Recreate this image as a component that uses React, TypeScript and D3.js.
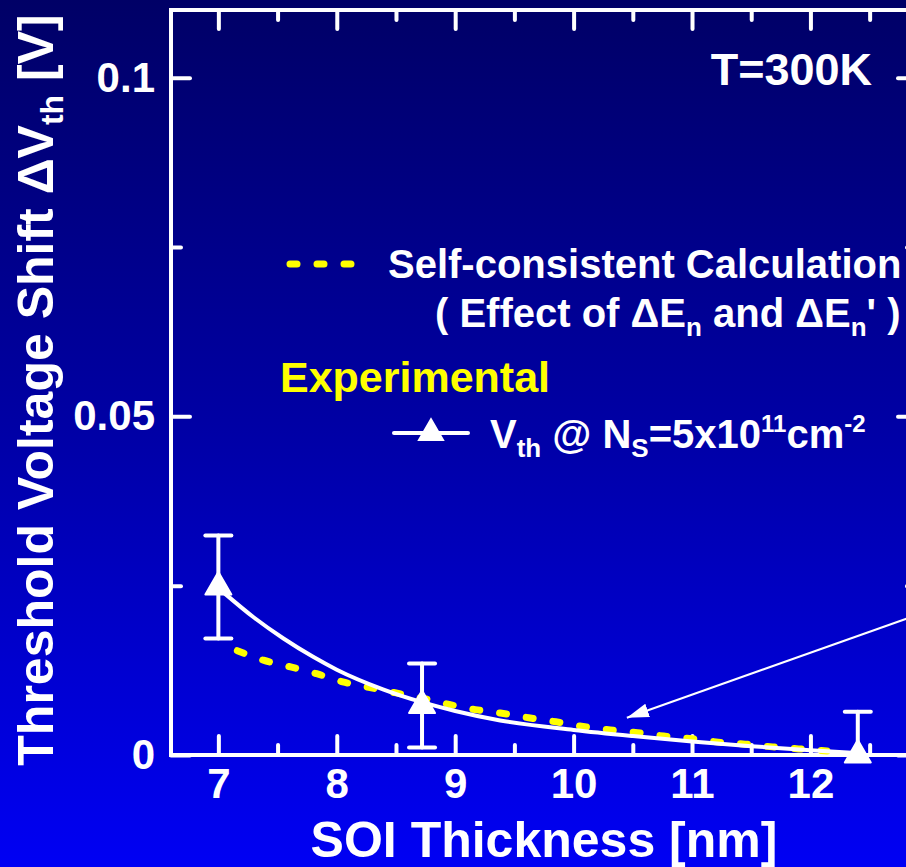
import React, { useRef, useEffect } from 'react';
import * as d3 from 'd3';

// experimental threshold voltage shift (triangles with error bars)
const expThickness = [7, 8.72, 12.4];
const expShift = [0.0248, 0.0073, 0.0];
const expError = [0.0076, 0.0062, 0.0064];

// solid white fit through the experimental points
const fitThickness = [7.05, 7.3, 7.55, 7.8, 8.0, 8.39, 8.72, 9.0, 9.38, 10.0, 10.5, 11.0, 11.5, 12.0, 12.4];
const fitShift = [0.0239, 0.0203, 0.0172, 0.0145, 0.0126, 0.0097, 0.0078, 0.0065, 0.0051, 0.0037, 0.0028, 0.002, 0.0013, 0.0007, 0.0003];

// self-consistent calculation (yellow dotted)
const calcThickness = [7.16, 7.38, 7.61, 7.83, 8.05, 8.27, 8.49, 8.72, 8.94, 9.17, 9.38, 9.62, 9.85, 10.08, 10.31, 10.54, 10.76, 11.0, 11.22, 11.45, 11.68, 11.9, 12.14];
const calcShift = [0.0154, 0.014, 0.013, 0.012, 0.0108, 0.01, 0.0092, 0.0084, 0.0075, 0.0067, 0.0062, 0.0055, 0.0049, 0.0042, 0.0037, 0.0033, 0.0028, 0.0024, 0.0019, 0.0016, 0.0012, 0.0009, 0.0006];

const xMajor = [7, 8, 9, 10, 11, 12];
const xMinor = [7.5, 8.5, 9.5, 10.5, 11.5, 12.5];
const yMajor = [0, 0.05, 0.1];
const yLabels = ['0', '0.05', '0.1'];
const yMinor = [0.025, 0.075];

const W = 906;
const H = 867;
const FONT = 'Liberation Sans, Arial, Helvetica, sans-serif';

const App = () => {
    const ref = useRef<SVGSVGElement>(null);

    useEffect(() => {
        const left = 171, right = 917, top = 10, bottom = 755;

        const x = d3.scaleLinear().domain([6.6, 12.9]).range([left, right]);
        const y = d3.scaleLinear().domain([0, 0.11]).range([bottom, top]);

        const svg = d3.select(ref.current);
        svg.selectAll('*').remove();

        const defs = svg.append('defs');
        const grad = defs.append('linearGradient')
            .attr('id', 'bg').attr('x1', 0).attr('y1', 0).attr('x2', 0).attr('y2', 1);
        grad.append('stop').attr('offset', '0%').attr('stop-color', '#000066');
        grad.append('stop').attr('offset', '50%').attr('stop-color', '#0000a6');
        grad.append('stop').attr('offset', '100%').attr('stop-color', '#0000f4');

        defs.append('clipPath').attr('id', 'plot')
            .append('rect').attr('x', left).attr('y', top)
            .attr('width', right - left).attr('height', bottom - top);

        defs.append('marker')
            .attr('id', 'head')
            .attr('markerUnits', 'userSpaceOnUse')
            .attr('viewBox', '0 -8 22 16')
            .attr('refX', 22).attr('refY', 0)
            .attr('markerWidth', 22).attr('markerHeight', 16)
            .attr('orient', 'auto')
            .append('path').attr('d', 'M0,-7L22,0L0,7Z').attr('fill', 'white');

        svg.append('rect').attr('width', W).attr('height', H).attr('fill', 'url(#bg)');

        // ticks (inward on all four sides)
        const styleAxis = (g, size) => {
            g.select('.domain').remove();
            g.selectAll('.tick line')
                .attr('stroke', 'white').attr('stroke-width', 4).attr('stroke-linecap', 'round');
            g.selectAll('text')
                .attr('fill', 'white').attr('font-family', FONT)
                .attr('font-weight', 'bold').attr('font-size', size);
        };

        svg.append('g').attr('transform', `translate(0,${bottom})`)
            .call(d3.axisBottom(x).tickValues(xMajor).tickSize(-19).tickPadding(13).tickFormat(d3.format('d')))
            .call(g => styleAxis(g, 42));
        svg.append('g').attr('transform', `translate(0,${bottom})`)
            .call(d3.axisBottom(x).tickValues(xMinor).tickSize(-10).tickFormat(() => ''))
            .call(g => styleAxis(g, 42));
        svg.append('g').attr('transform', `translate(0,${top})`)
            .call(d3.axisTop(x).tickValues(xMajor).tickSize(-19).tickFormat(() => ''))
            .call(g => styleAxis(g, 42));
        svg.append('g').attr('transform', `translate(0,${top})`)
            .call(d3.axisTop(x).tickValues(xMinor).tickSize(-10).tickFormat(() => ''))
            .call(g => styleAxis(g, 42));

        svg.append('g').attr('transform', `translate(${left},0)`)
            .call(d3.axisLeft(y).tickValues(yMajor).tickSize(-19).tickPadding(16)
                .tickFormat((d, i) => yLabels[i]))
            .call(g => styleAxis(g, 42));
        svg.append('g').attr('transform', `translate(${left},0)`)
            .call(d3.axisLeft(y).tickValues(yMinor).tickSize(-10).tickFormat(() => ''))
            .call(g => styleAxis(g, 42));
        svg.append('g').attr('transform', `translate(${right},0)`)
            .call(d3.axisRight(y).tickValues(yMajor).tickSize(-19).tickFormat(() => ''))
            .call(g => styleAxis(g, 42));
        svg.append('g').attr('transform', `translate(${right},0)`)
            .call(d3.axisRight(y).tickValues(yMinor).tickSize(-10).tickFormat(() => ''))
            .call(g => styleAxis(g, 42));

        // frame
        svg.append('rect')
            .attr('x', left).attr('y', top)
            .attr('width', right - left).attr('height', bottom - top)
            .attr('fill', 'none').attr('stroke', 'white').attr('stroke-width', 4);

        const line = d3.line<number>()
            .x(d => x(d[0])).y(d => y(d[1]))
            .curve(d3.curveMonotoneX);

        // calculation, yellow dotted
        svg.append('path')
            .attr('d', line(d3.zip(calcThickness, calcShift)))
            .attr('fill', 'none').attr('stroke', '#ffff00')
            .attr('stroke-width', 7).attr('stroke-linecap', 'round')
            .attr('stroke-dasharray', '7 20');

        // fit, white solid
        svg.append('path')
            .attr('d', line(d3.zip(fitThickness, fitShift)))
            .attr('fill', 'none').attr('stroke', 'white').attr('stroke-width', 4);

        // error bars
        const eb = svg.append('g').attr('clip-path', 'url(#plot)')
            .attr('stroke', 'white').attr('stroke-width', 4).attr('stroke-linecap', 'round');
        expThickness.forEach((t, i) => {
            const cx = x(t);
            const y1 = y(expShift[i] + expError[i]);
            const y0 = y(expShift[i] - expError[i]);
            eb.append('line').attr('x1', cx).attr('x2', cx).attr('y1', y1).attr('y2', y0);
            eb.append('line').attr('x1', cx - 13).attr('x2', cx + 13).attr('y1', y1).attr('y2', y1);
            eb.append('line').attr('x1', cx - 13).attr('x2', cx + 13).attr('y1', y0).attr('y2', y0);
        });

        const tri = d3.symbol(d3.symbolTriangle, 292);
        svg.append('g').selectAll('path')
            .data(d3.zip(expThickness, expShift))
            .join('path')
            .attr('transform', d => `translate(${x(d[0])},${y(d[1])})`)
            .attr('d', tri)
            .attr('fill', 'white').attr('stroke', 'white').attr('stroke-width', 2)
            .attr('stroke-linejoin', 'round');

        // annotation arrow
        svg.append('line')
            .attr('x1', x(13.0)).attr('y1', y(0.0213))
            .attr('x2', x(10.45)).attr('y2', y(0.0055))
            .attr('stroke', 'white').attr('stroke-width', 2)
            .attr('marker-end', 'url(#head)');

        // legend
        const lg = svg.append('g').attr('font-family', FONT).attr('font-weight', 'bold').attr('fill', 'white');

        lg.append('line')
            .attr('x1', 290).attr('x2', 352).attr('y1', 264).attr('y2', 264)
            .attr('stroke', '#ffff00').attr('stroke-width', 7).attr('stroke-linecap', 'round')
            .attr('stroke-dasharray', '7 20');
        lg.append('text').attr('x', 388).attr('y', 278).attr('font-size', 40)
            .text('Self-consistent Calculation');

        const eff = lg.append('text').attr('x', 435).attr('y', 327).attr('font-size', 40);
        eff.append('tspan').text('( Effect of \u0394E');
        eff.append('tspan').attr('font-size', 26).attr('dy', 9).text('n');
        eff.append('tspan').attr('dy', -9).text(' and \u0394E');
        eff.append('tspan').attr('font-size', 26).attr('dy', 9).text('n');
        eff.append('tspan').attr('dy', -9).text("' )");

        lg.append('text').attr('x', 280).attr('y', 392).attr('font-size', 43)
            .attr('fill', '#ffff00').text('Experimental');

        lg.append('line')
            .attr('x1', 394).attr('x2', 468).attr('y1', 433).attr('y2', 433)
            .attr('stroke', 'white').attr('stroke-width', 4).attr('stroke-linecap', 'round');
        lg.append('path')
            .attr('transform', 'translate(431,433)')
            .attr('d', d3.symbol(d3.symbolTriangle, 250))
            .attr('fill', 'white').attr('stroke', 'white').attr('stroke-width', 2);

        const vt = lg.append('text').attr('x', 490).attr('y', 448).attr('font-size', 40);
        vt.append('tspan').text('V');
        vt.append('tspan').attr('font-size', 26).attr('dy', 9).text('th');
        vt.append('tspan').attr('dy', -9).text(' @ N');
        vt.append('tspan').attr('font-size', 26).attr('dy', 9).text('S');
        vt.append('tspan').attr('dy', -9).text('=5x10');
        vt.append('tspan').attr('font-size', 24).attr('dy', -16).text('11');
        vt.append('tspan').attr('dy', 16).text('cm');
        vt.append('tspan').attr('font-size', 24).attr('dy', -16).text('-2');

        lg.append('text').attr('x', 872).attr('y', 85).attr('font-size', 45)
            .attr('text-anchor', 'end').text('T=300K');

        // axis titles
        svg.append('text')
            .attr('x', (left + right) / 2).attr('y', 857)
            .attr('text-anchor', 'middle')
            .attr('font-family', FONT).attr('font-weight', 'bold').attr('font-size', 50)
            .attr('fill', 'white')
            .text('SOI Thickness [nm]');

        const yt = svg.append('text')
            .attr('transform', 'translate(53,390) rotate(-90)')
            .attr('text-anchor', 'middle')
            .attr('font-family', FONT).attr('font-weight', 'bold').attr('font-size', 50)
            .attr('fill', 'white');
        yt.append('tspan').text('Threshold Voltage Shift \u0394V');
        yt.append('tspan').attr('font-size', 32).attr('dy', 10).text('th');
        yt.append('tspan').attr('dy', -10).text(' [V]');
    }, []);

    return (
        <svg ref={ref} width={W} height={H}
            style={{ position: 'absolute', left: 0, top: 0, display: 'block' }} />
    );
};

export default App;
